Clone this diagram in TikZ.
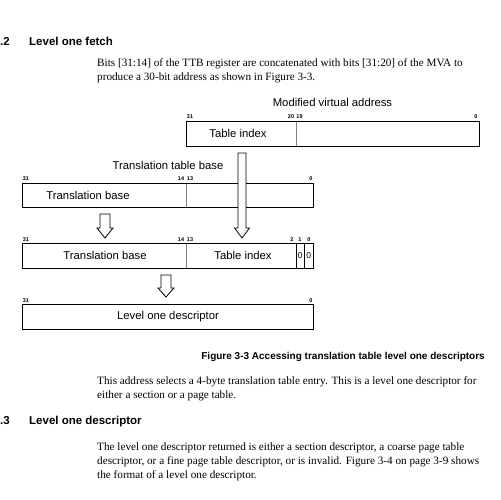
\documentclass[tikz,border=0pt]{standalone}
\usepackage{fontspec}
\setmainfont{Liberation Serif}
\setsansfont{Liberation Sans}
\usetikzlibrary{positioning}

% hollow block arrow pointing down: x, top, neck, tip, half shaft, half head
\newcommand{\hollowdown}[6]{%
  \draw[blk] (#1-#5,#2) -- (#1+#5,#2) -- (#1+#5,#3) -- (#1+#6,#3) -- (#1,#4)
    -- (#1-#6,#3) -- (#1-#5,#3) -- cycle;}

\begin{document}
\begin{tikzpicture}[x=1pt,y=-1pt,
  body/.style={anchor=base west,inner sep=0pt,font=\fontsize{11.2}{13}\selectfont},
  head/.style={anchor=base west,inner sep=0pt,font=\sffamily\bfseries\fontsize{11.5}{13}\selectfont},
  figcap/.style={anchor=base east,inner sep=0pt,font=\sffamily\bfseries\fontsize{10}{12}\selectfont},
  title/.style={anchor=base,inner sep=0pt,font=\sffamily\fontsize{11.3}{13}\selectfont},
  lbl/.style={inner sep=0pt,font=\sffamily\fontsize{11.3}{13}\selectfont},
  zero/.style={inner sep=0pt,font=\sffamily\fontsize{8.5}{9}\selectfont},
  bit/.style={anchor=base,inner sep=0pt,font=\sffamily\bfseries\fontsize{5.5}{6}\selectfont},
  reg/.style={draw,line width=0.8pt},
  sep/.style={draw=gray,line width=0.8pt},
  blk/.style={draw,fill=white,line width=0.8pt,line join=miter}]
\useasboundingbox (0,0) rectangle (501,500);

% section text above the figure
\node[head] (num1) at (0,46) {.2};
\node[head] (sec1) at (29,46) {Level one fetch};
\node[body] (p1a) at (97,67) {Bits [31:14] of the TTB register are concatenated with bits [31:20] of the MVA to};
\node[body] (p1b) at (97,81) {produce a 30-bit address as shown in Figure 3-3.};

% modified virtual address
\node[title] (mvat) at (332.5,107) {Modified virtual address};
\draw[sep] (296,121) -- (296,146);
\draw[reg] (186,121) rectangle (479,146);
\node[lbl] (mvaidx) at (238,133.5) {Table index};

% translation table base
\node[title] (ttbt) at (168,170) {Translation table base};
\draw[sep] (186,183) -- (186,207);
\draw[reg] (22,183) rectangle (313,207);
\node[lbl] (ttbbase) at (88,195) {Translation base};

% concatenated address
\draw[sep] (186,243) -- (186,268);
\draw[reg] (22,243) rectangle (313,268);
\draw[reg] (296,243) -- (296,268) (304.5,243) -- (304.5,268);
\node[lbl] (addrbase) at (105,255.5) {Translation base};
\node[lbl] (addridx) at (243,255.5) {Table index};
\node[zero] (z1) at (300.2,255.5) {0};
\node[zero] (z0) at (308.8,255.5) {0};

% level one descriptor
\draw[reg] (22,304) rectangle (313,329);
\node[lbl] (lod) at (168,316.5) {Level one descriptor};

% bit numbers
\foreach \x/\y/\t/\n in {190/119/31/m31, 291/119/20/m20, 299.5/119/19/m19, 476/119/0/m0,
    26/181/31/t31, 181/181/14/t14, 190/181/13/t13, 311/181/0/t0,
    26/241/31/a31, 181/241/14/a14, 190/241/13/a13, 292/241/2/a2, 300/241/1/a1, 309/241/0/a0,
    26/302/31/l31, 311/302/0/l0}{
    \node[bit] (\n) at (\x,\y) {\t};
}

% arrows
\hollowdown{242}{153}{228}{238}{4}{7.5}
\hollowdown{105}{214}{228}{238}{5}{8}
\hollowdown{166}{275}{288}{297}{5}{8}

% caption and text below the figure
\node[figcap] (fig) at (485,359) {Figure 3-3 Accessing translation table level one descriptors};
\node[body] (p2a) at (97,384) {This address selects a 4-byte translation table entry. This is a level one descriptor for};
\node[body] (p2b) at (97,398) {either a section or a page table.};
\node[head] (num2) at (0,424) {.3};
\node[head] (sec2) at (29,424) {Level one descriptor};
\node[body] (p3a) at (97,450) {The level one descriptor returned is either a section descriptor, a coarse page table};
\node[body] (p3b) at (97,464) {descriptor, or a fine page table descriptor, or is invalid. Figure 3-4 on page 3-9 shows};
\node[body] (p3c) at (97,478) {the format of a level one descriptor.};
\end{tikzpicture}
\end{document}
